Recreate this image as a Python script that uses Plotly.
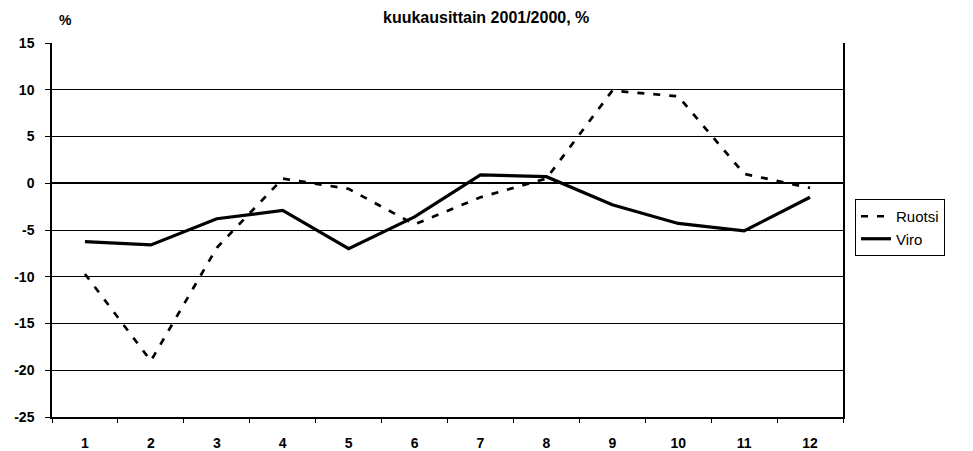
import plotly.graph_objects as go

months = ['1', '2', '3', '4', '5', '6', '7', '8', '9', '10', '11', '12']
ruotsi = [-9.7, -19.0, -6.9, 0.5, -0.6, -4.4, -1.5, 0.5, 9.9, 9.3, 1.0, -0.5]
viro = [-6.25, -6.6, -3.8, -2.9, -7.0, -3.6, 0.9, 0.7, -2.3, -4.3, -5.1, -1.5]
y_ticks = [15, 10, 5, 0, -5, -10, -15, -20, -25]

font_name = 'Liberation Sans, Arial, sans-serif'

# page body has an 8px default margin, so the figure is a bit smaller
W, H = 965, 443
L, R, T, B = 44, 130, 35, 34
pw, ph = W - L - R, H - T - B

fig = go.Figure()
fig.add_trace(go.Scatter(
    x=months, y=ruotsi, mode='lines', name='Ruotsi',
    line=dict(color='black', width=2.7, dash='7px,9px')
))
fig.add_trace(go.Scatter(
    x=months, y=viro, mode='lines', name='Viro',
    line=dict(color='black', width=3.2)
))

fig.update_layout(
    width=W, height=H,
    margin=dict(l=L, r=R, t=T, b=B, autoexpand=False),
    paper_bgcolor='white', plot_bgcolor='white',
    font=dict(family=font_name, size=14, color='black'),
    showlegend=True,
    legend=dict(
        x=(855 - 52) / pw, y=(417 - 199) / ph, xanchor='left', yanchor='top',
        bordercolor='black', borderwidth=1, bgcolor='white',
        font=dict(size=15), tracegroupgap=0
    ),
    xaxis=dict(
        type='category', tickson='boundaries', range=[-0.5, 11.5],
        showgrid=False, showline=True, linecolor='black', linewidth=1.5,
        ticks='outside', ticklen=4, tickcolor='black',
        tickfont=dict(size=14, weight='bold'), ticklabelstandoff=12,
        zeroline=False, fixedrange=True, automargin=False
    ),
    yaxis=dict(
        range=[-25, 15], tickvals=y_ticks, ticktext=[str(v) for v in y_ticks],
        showgrid=True, gridcolor='black', gridwidth=1,
        zeroline=True, zerolinecolor='black', zerolinewidth=1.5,
        showline=True, linecolor='black', linewidth=1.5, mirror=True,
        ticks='outside', ticklen=5, tickcolor='black',
        tickfont=dict(size=14, weight='bold'), ticklabelstandoff=8,
        fixedrange=True, automargin=False
    ),
    annotations=[
        dict(text='<b>kuukausittain 2001/2000, %</b>',
             x=(478 - L) / pw, y=1 + (T - 20) / ph,
             xref='paper', yref='paper', xanchor='center', yanchor='bottom',
             showarrow=False, font=dict(size=16)),
        dict(text='<b>%</b>', x=(49 - L) / pw, y=1 + (T - 12) / ph,
             xref='paper', yref='paper', xanchor='left', yanchor='middle',
             showarrow=False, font=dict(size=14)),
    ],
)

fig.write_html("out.html")
